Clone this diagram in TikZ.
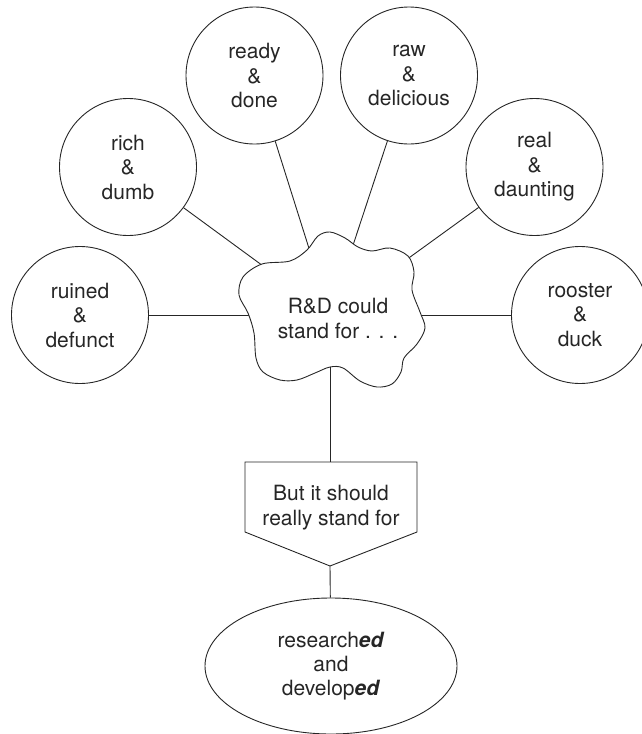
\documentclass[tikz,border=0pt]{standalone}
\usepackage{fontspec}
\setmainfont{TeX Gyre Heros}
\usetikzlibrary{shapes.geometric}
\tikzset{
  x=1pt,y=-1pt,
  lw/.style={line width=0.9pt, draw=black!85},
  bubble/.style={lw, circle, minimum size=137pt, inner sep=0pt, align=center,
    font=\fontsize{21}{24.5}\selectfont, text=black!85},
  txt/.style={align=center, inner sep=0pt, font=\fontsize{21}{25}\selectfont, text=black!85},
  oval/.style={lw, ellipse, minimum width=252pt, minimum height=136pt, inner sep=0pt,
    align=center, font=\fontsize{21}{24}\selectfont, text=black!85},
  link/.style={lw},
}
\begin{document}
\begin{tikzpicture}
\useasboundingbox (0,0) rectangle (642,734);
% bubbles
\node[bubble] (ruined) at (80,315) {ruined\\\&\\defunct};
\node[bubble] (rich) at (128,167) {rich\\\&\\dumb};
\node[bubble] (ready) at (254.5,75.5) {ready\\\&\\done};
\node[bubble] (raw) at (409,75.5) {raw\\\&\\delicious};
\node[bubble] (real) at (534.5,167) {real\\\&\\daunting};
\node[bubble] (rooster) at (580,315) {rooster\\\&\\duck};
\node[oval] (res) at (331,666) {research\textbf{\textit{ed}}\\and\\develop\textbf{\textit{ed}}};
% cloud centre and pentagon corners
\coordinate (cc) at (330,315);
\coordinate (ptop) at (330,462);
\coordinate (ptip) at (330,566);
% connectors (drawn beneath the cloud)
\foreach \n in {ruined,rich,ready,raw,real,rooster}{
  \draw[link] (\n) -- (cc);
}
\draw[link] (cc) -- (ptop);
\draw[link] (ptip) -- (res);
% cloud
\draw[lw, fill=white] plot[smooth cycle, tension=0.55] coordinates {
 (262,264) (290,261) (307,250) (318,236) (330,232) (345,238) (358,247)
 (372,251) (390,248) (408,256) (414,272) (412,290) (420,312) (425,328)
 (417,344) (404,358) (401,372) (392,384) (377,387) (360,381) (343,368)
 (330,367) (315,373) (297,380) (280,380) (263,372) (256,358) (254,333)
 (248,313) (239,295) (243,277)};
\node[txt] (cloud) at (338,318) {R\&D could\\stand for . . .};
% pentagon
\draw[lw] (245,462) -- (ptop) -- (417,462) -- (417,532) -- (ptip) -- (245,532) -- cycle;
\node[txt] (but) at (331,508) {But it should\\really stand for};
\end{tikzpicture}
\end{document}
